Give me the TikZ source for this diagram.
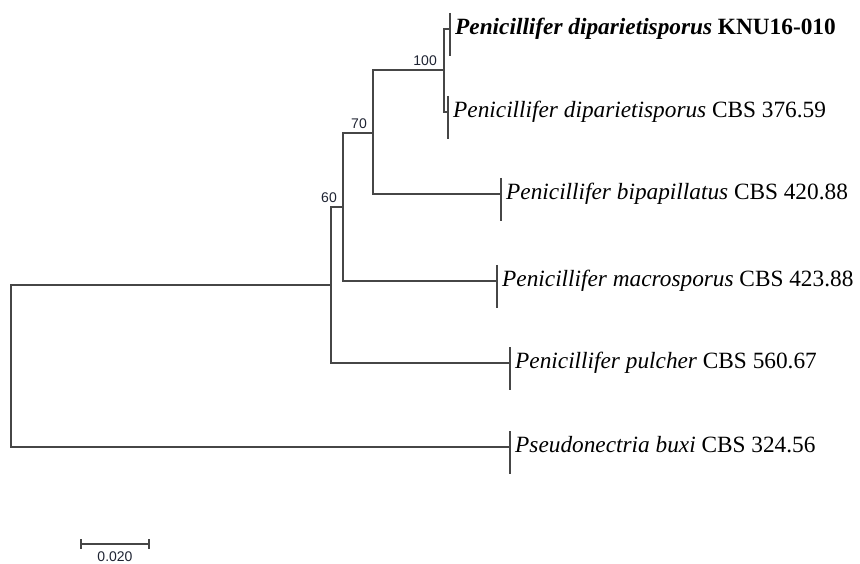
\documentclass[tikz,border=0pt]{standalone}
\usepackage{fontspec}
\setmainfont{Liberation Serif}
\newfontfamily\bootfont{Liberation Sans}
\usetikzlibrary{calc}
\definecolor{branchgray}{RGB}{70,70,70}
\definecolor{bootink}{RGB}{30,35,50}

\begin{document}
\begin{tikzpicture}[x=1pt, y=-1pt,
    branch/.style={draw=branchgray, line width=1.1pt},
    taxon/.style={anchor=west, inner xsep=5pt, inner ysep=0pt, text height=16pt, text depth=5pt, font=\fontsize{23.3}{27}\selectfont},
    boot/.style={anchor=base east, inner sep=0pt, font=\bootfont\fontsize{14}{16}\selectfont, text=bootink}]
      \clip (0,0) rectangle (860,564);

      \coordinate (root) at (11,366);
      \coordinate (n1) at (331,285);
      \coordinate (n2) at (343,207);
      \coordinate (n3) at (373,133);
      \coordinate (n4) at (444,70);

      \node[taxon] (knu) at (450,29) {\textbf{\textit{Penicillifer diparietisporus} KNU16-010}};
      \node[taxon] (dip) at (448,112) {\textit{Penicillifer diparietisporus} CBS 376.59};
      \node[taxon] (bip) at (501,194) {\textit{Penicillifer bipapillatus} CBS 420.88};
      \node[taxon] (mac) at (497,281) {\textit{Penicillifer macrosporus} CBS 423.88};
      \node[taxon] (pul) at (510,363) {\textit{Penicillifer pulcher} CBS 560.67};
      \node[taxon] (psb) at (510,447) {\textit{Pseudonectria buxi} CBS 324.56};

      \draw[branch] (root) |- (n1);
      \draw[branch] (root) |- (psb.west);
      \draw[branch] (n1) |- (n2);
      \draw[branch] (n1) |- (pul.west);
      \draw[branch] (n2) |- (n3);
      \draw[branch] (n2) |- (mac.west);
      \draw[branch] (n3) |- (n4);
      \draw[branch] (n3) |- (bip.west);
      \draw[branch] (n4) |- (knu.west);
      \draw[branch] (n4) |- (dip.west);

      \foreach \t in {knu, dip, bip, mac, pul, psb}
        \draw[branch] ([yshift=16pt]\t.west) -- ([yshift=-27pt]\t.west);

      \node[boot] (b100) at ([xshift=-7pt, yshift=4pt]n4) {100};
      \node[boot] (b70) at ([xshift=-6pt, yshift=4pt]n3) {70};
      \node[boot] (b60) at ([xshift=-6pt, yshift=4pt]n2) {60};

      \coordinate (sbl) at (81,544);
      \coordinate (sbr) at (149,544);
      \draw[branch] (sbl) -- (sbr);
      \draw[branch] ([yshift=5pt]sbl) -- ([yshift=-5pt]sbl);
      \draw[branch] ([yshift=5pt]sbr) -- ([yshift=-5pt]sbr);
      \node[boot, anchor=base] (scale) at ($(sbl)!0.5!(sbr)+(0,17)$) {0.020};
\end{tikzpicture}
\end{document}
